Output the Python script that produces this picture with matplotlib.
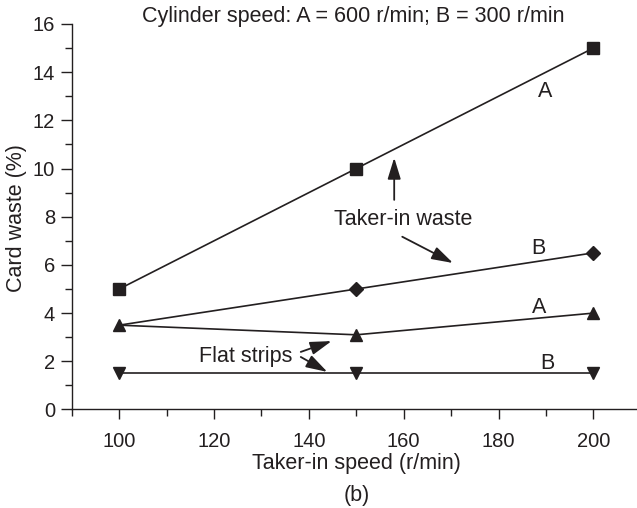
import matplotlib
matplotlib.use("Agg")
import matplotlib.pyplot as plt
from matplotlib.ticker import MultipleLocator

plt.rcParams['font.family'] = ['Liberation Sans', 'DejaVu Sans']

speed = [100, 150, 200]
taker_A = [5, 10, 15]
taker_B = [3.5, 5, 6.5]
flat_A = [3.5, 3.1, 4.0]
flat_B = [1.5, 1.5, 1.5]

title = "Cylinder speed: A = 600 r/min; B = 300 r/min"
xlabel = "Taker-in speed (r/min)"
ylabel = "Card waste (%)"
sub = "(b)"

col = '#231f20'
fs = 15.5
tfs = 14.5

fig = plt.figure(figsize=(6.37, 5.08), dpi=100)
ax = fig.add_axes([0.1126, 0.1939, 0.8874, 0.7589])

lw = 1.2
ax.plot(speed, taker_A, '-s', color=col, lw=lw, ms=8, clip_on=False, zorder=3)
ax.plot(speed, taker_B, '-D', color=col, lw=lw, ms=7, markevery=[1, 2], clip_on=False, zorder=3)
ax.plot(speed, flat_A, '-^', color=col, lw=lw, ms=9, clip_on=False, zorder=3)
ax.plot(speed, flat_B, '-v', color=col, lw=lw, ms=9, clip_on=False, zorder=3)

ax.set_xlim(90, 209.2)
ax.set_ylim(0, 16)
ax.xaxis.set_major_locator(MultipleLocator(20))
ax.xaxis.set_minor_locator(MultipleLocator(10))
ax.yaxis.set_major_locator(MultipleLocator(2))
ax.yaxis.set_minor_locator(MultipleLocator(1))
for s in ['top', 'right']:
    ax.spines[s].set_visible(False)
for s in ['left', 'bottom']:
    ax.spines[s].set_color(col)
    ax.spines[s].set_linewidth(1.0)
ax.tick_params(axis='y', which='major', length=8, width=1.0, color=col, labelsize=tfs, pad=4, labelcolor=col)
ax.tick_params(axis='y', which='minor', length=5, width=1.0, color=col)
ax.tick_params(axis='x', which='major', length=7, width=1.0, color=col, labelsize=tfs, pad=9, labelcolor=col)
ax.tick_params(axis='x', which='minor', length=5, width=1.0, color=col)

fig.text(0.554, 0.968, title, ha='center', va='center', fontsize=fs, color=col)
fig.text(0.559, 0.088, xlabel, ha='center', va='center', fontsize=fs, color=col)
fig.text(0.560, 0.025, sub, ha='center', va='center', fontsize=fs, color=col)
fig.text(0.026, 0.570, ylabel, ha='center', va='center', rotation=90, fontsize=fs, color=col)

ax.text(189.8, 13.18, 'A', ha='center', va='center', fontsize=fs, color=col)
ax.text(188.4, 6.7, 'B', ha='center', va='center', fontsize=fs, color=col)
ax.text(188.6, 4.25, 'A', ha='center', va='center', fontsize=fs, color=col)
ax.text(190.4, 1.89, 'B', ha='center', va='center', fontsize=fs, color=col)
ax.text(159.9, 7.9, 'Taker-in waste', ha='center', va='center', fontsize=fs, color=col)
ax.text(126.6, 2.18, 'Flat strips', ha='center', va='center', fontsize=fs, color=col)

ap = dict(arrowstyle='-|>,head_length=0.65,head_width=0.2', mutation_scale=20,
          lw=1.3, color=col, shrinkA=0, shrinkB=0)
ax.annotate('', xy=(158.0, 10.45), xytext=(158.0, 8.70), arrowprops=ap)
ax.annotate('', xy=(170.4, 6.08), xytext=(159.7, 7.17), arrowprops=ap)
ax.annotate('', xy=(144.8, 2.84), xytext=(138.3, 2.39), arrowprops=ap)
ax.annotate('', xy=(143.9, 1.56), xytext=(138.3, 2.18), arrowprops=ap)

fig.savefig('out.png', dpi=100)
